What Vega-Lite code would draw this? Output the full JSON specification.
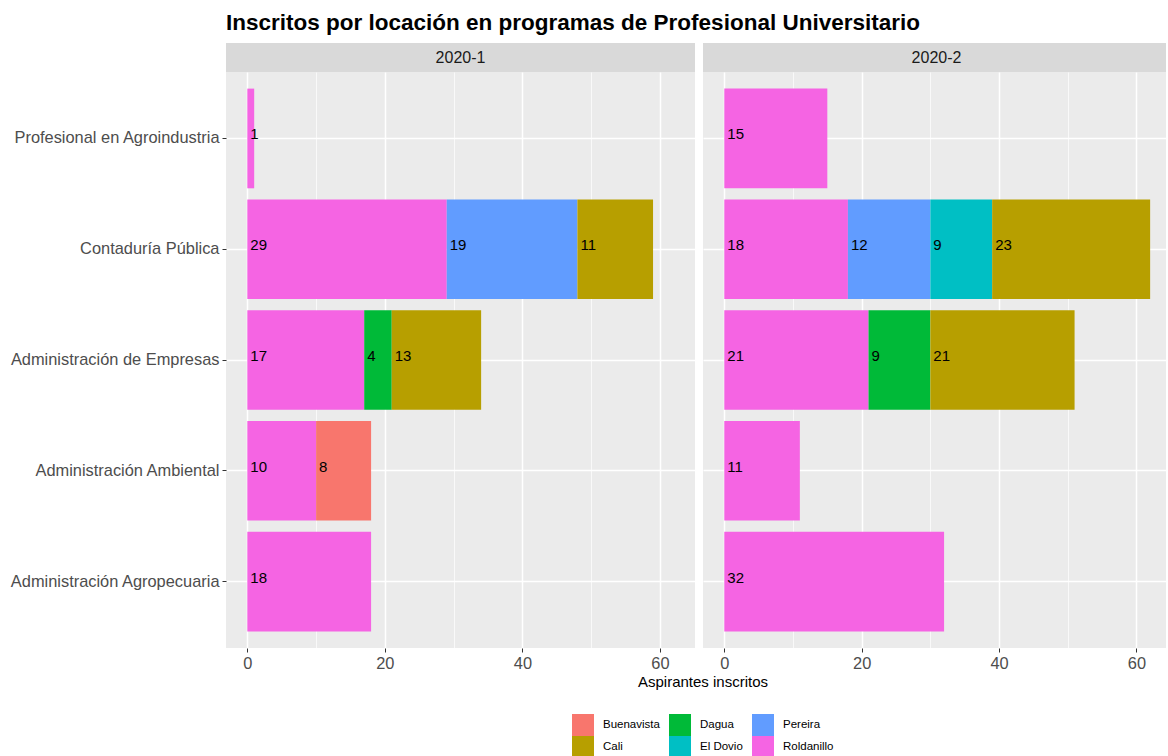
{
  "$schema": "https://vega.github.io/schema/vega-lite/v6.json",
  "padding": {"left": 9, "top": 11, "right": 0, "bottom": 0},
  "background": "white",
  "title": {
    "text": "Inscritos por locación en programas de Profesional Universitario",
    "anchor": "start",
    "frame": "group",
    "fontSize": 22.5,
    "fontWeight": "bold",
    "font": "Liberation Sans",
    "color": "#000000",
    "offset": 9
  },
  "datasets": {
    "inscritos": [
      {"periodo": "2020-1", "programa": "Profesional en Agroindustria", "ubicacion": "Roldanillo", "inscritos": 1},
      {"periodo": "2020-1", "programa": "Contaduría Pública", "ubicacion": "Roldanillo", "inscritos": 29},
      {"periodo": "2020-1", "programa": "Contaduría Pública", "ubicacion": "Pereira", "inscritos": 19},
      {"periodo": "2020-1", "programa": "Contaduría Pública", "ubicacion": "Cali", "inscritos": 11},
      {"periodo": "2020-1", "programa": "Administración de Empresas", "ubicacion": "Roldanillo", "inscritos": 17},
      {"periodo": "2020-1", "programa": "Administración de Empresas", "ubicacion": "Dagua", "inscritos": 4},
      {"periodo": "2020-1", "programa": "Administración de Empresas", "ubicacion": "Cali", "inscritos": 13},
      {"periodo": "2020-1", "programa": "Administración Ambiental", "ubicacion": "Roldanillo", "inscritos": 10},
      {"periodo": "2020-1", "programa": "Administración Ambiental", "ubicacion": "Buenavista", "inscritos": 8},
      {"periodo": "2020-1", "programa": "Administración Agropecuaria", "ubicacion": "Roldanillo", "inscritos": 18},
      {"periodo": "2020-2", "programa": "Profesional en Agroindustria", "ubicacion": "Roldanillo", "inscritos": 15},
      {"periodo": "2020-2", "programa": "Contaduría Pública", "ubicacion": "Roldanillo", "inscritos": 18},
      {"periodo": "2020-2", "programa": "Contaduría Pública", "ubicacion": "Pereira", "inscritos": 12},
      {"periodo": "2020-2", "programa": "Contaduría Pública", "ubicacion": "El Dovio", "inscritos": 9},
      {"periodo": "2020-2", "programa": "Contaduría Pública", "ubicacion": "Cali", "inscritos": 23},
      {"periodo": "2020-2", "programa": "Administración de Empresas", "ubicacion": "Roldanillo", "inscritos": 21},
      {"periodo": "2020-2", "programa": "Administración de Empresas", "ubicacion": "Dagua", "inscritos": 9},
      {"periodo": "2020-2", "programa": "Administración de Empresas", "ubicacion": "Cali", "inscritos": 21},
      {"periodo": "2020-2", "programa": "Administración Ambiental", "ubicacion": "Roldanillo", "inscritos": 11},
      {"periodo": "2020-2", "programa": "Administración Agropecuaria", "ubicacion": "Roldanillo", "inscritos": 32}
    ]
  },
  "spacing": 8,
  "hconcat": [
    {
      "bounds": "flush",
      "spacing": 0,
      "vconcat": [
        {
          "width": 469,
          "height": 29,
          "view": {"fill": "#D9D9D9", "stroke": null},
          "data": {"values": [{"periodo": "2020-1"}]},
          "mark": {"type": "text", "fontSize": 16, "color": "#1A1A1A", "font": "Liberation Sans", "baseline": "middle", "align": "center"},
          "encoding": {"text": {"field": "periodo"}}
        },
        {
          "width": 469,
          "height": 576,
          "view": {"fill": "#EBEBEB", "stroke": null},
          "data": {"name": "inscritos"},
          "transform": [
            {"filter": "datum.periodo === '2020-1'"},
            {"stack": "inscritos", "groupby": ["programa"], "sort": [{"field": "ubicacion", "order": "descending"}], "as": ["inicio", "fin"]}
          ],
          "encoding": {
            "y": {
              "field": "programa",
              "type": "nominal",
              "scale": {
                "domain": ["Profesional en Agroindustria", "Contaduría Pública", "Administración de Empresas", "Administración Ambiental", "Administración Agropecuaria"],
                "paddingInner": 0.1,
                "paddingOuter": 0.15
              },
              "axis": {
                "title": null,
                "grid": true,
                "gridColor": "#FFFFFF",
                "gridWidth": 1.5,
                "bandPosition": 0.5,
                "labelLimit": 400,
                "labelPadding": 3,
                "tickSize": 4,
                "tickColor": "#333333",
                "domain": false
              }
            }
          },
          "layer": [
            {
              "mark": {"type": "bar"},
              "encoding": {
                "x": {
                  "field": "inicio",
                  "type": "quantitative",
                  "scale": {"domain": [-3.1, 65.1], "nice": false, "zero": false},
                  "axis": {
                    "values": [0, 10, 20, 30, 40, 50, 60],
                    "labelExpr": "datum.value % 20 === 0 ? datum.label : ''",
                    "tickOpacity": {"condition": {"test": "datum.value % 20 === 0", "value": 1}, "value": 0},
                    "gridWidth": {"condition": {"test": "datum.value % 20 === 0", "value": 1.5}, "value": 0.7},
                    "gridColor": "#FFFFFF",
                    "grid": true,
                    "domain": false,
                    "labelOverlap": false,
                    "labelFlush": false,
                    "labelPadding": 3,
                    "tickSize": 4,
                    "tickColor": "#333333",
                    "title": null
                  }
                },
                "x2": {"field": "fin"},
                "color": {
                  "field": "ubicacion",
                  "type": "nominal",
                  "scale": {
                    "domain": ["Buenavista", "Cali", "Dagua", "El Dovio", "Pereira", "Roldanillo"],
                    "range": ["#F8766D", "#B79F00", "#00BA38", "#00BFC4", "#619CFF", "#F564E3"]
                  },
                  "legend": {
                    "orient": "none",
                    "legendX": 346,
                    "legendY": 632,
                    "columns": 3,
                    "title": "Aspirantes inscritos",
                    "titleFont": "Liberation Sans",
                    "titleFontSize": 15,
                    "titleFontWeight": "normal",
                    "titleColor": "#000000",
                    "titleAnchor": "middle",
                    "titleOrient": "top",
                    "titlePadding": 24,
                    "titleBaseline": "top",
                    "symbolType": "square",
                    "symbolSize": 484,
                    "symbolStrokeWidth": 0,
                    "symbolOpacity": 1,
                    "labelFontSize": 11.5,
                    "labelFont": "Liberation Sans",
                    "labelColor": "#000000",
                    "labelOffset": 9,
                    "rowPadding": 0,
                    "columnPadding": 9,
                    "padding": 0
                  }
                }
              }
            },
            {
              "mark": {"type": "text", "align": "left", "baseline": "middle", "dx": 3, "dy": -4, "fontSize": 15, "color": "#000000", "font": "Liberation Sans"},
              "encoding": {
                "x": {"field": "inicio", "type": "quantitative"},
                "text": {"field": "inscritos", "type": "quantitative"}
              }
            }
          ]
        }
      ]
    },
    {
      "bounds": "flush",
      "spacing": 0,
      "vconcat": [
        {
          "width": 463,
          "height": 29,
          "view": {"fill": "#D9D9D9", "stroke": null},
          "data": {"values": [{"periodo": "2020-2"}]},
          "mark": {"type": "text", "fontSize": 16, "color": "#1A1A1A", "font": "Liberation Sans", "baseline": "middle", "align": "center", "dx": 2},
          "encoding": {"text": {"field": "periodo"}}
        },
        {
          "width": 463,
          "height": 576,
          "view": {"fill": "#EBEBEB", "stroke": null},
          "data": {"name": "inscritos"},
          "transform": [
            {"filter": "datum.periodo === '2020-2'"},
            {"stack": "inscritos", "groupby": ["programa"], "sort": [{"field": "ubicacion", "order": "descending"}], "as": ["inicio", "fin"]}
          ],
          "encoding": {
            "y": {
              "field": "programa",
              "type": "nominal",
              "scale": {
                "domain": ["Profesional en Agroindustria", "Contaduría Pública", "Administración de Empresas", "Administración Ambiental", "Administración Agropecuaria"],
                "paddingInner": 0.1,
                "paddingOuter": 0.15
              },
              "axis": {
                "title": null,
                "grid": true,
                "gridColor": "#FFFFFF",
                "gridWidth": 1.5,
                "bandPosition": 0.5,
                "labels": false,
                "ticks": false,
                "domain": false
              }
            }
          },
          "layer": [
            {
              "mark": {"type": "bar"},
              "encoding": {
                "x": {
                  "field": "inicio",
                  "type": "quantitative",
                  "scale": {"domain": [-3.1, 64.31], "nice": false, "zero": false},
                  "axis": {
                    "values": [0, 10, 20, 30, 40, 50, 60],
                    "labelExpr": "datum.value % 20 === 0 ? datum.label : ''",
                    "tickOpacity": {"condition": {"test": "datum.value % 20 === 0", "value": 1}, "value": 0},
                    "gridWidth": {"condition": {"test": "datum.value % 20 === 0", "value": 1.5}, "value": 0.7},
                    "gridColor": "#FFFFFF",
                    "grid": true,
                    "domain": false,
                    "labelOverlap": false,
                    "labelFlush": false,
                    "labelPadding": 3,
                    "tickSize": 4,
                    "tickColor": "#333333",
                    "title": null
                  }
                },
                "x2": {"field": "fin"},
                "color": {
                  "field": "ubicacion",
                  "type": "nominal",
                  "scale": {
                    "domain": ["Buenavista", "Cali", "Dagua", "El Dovio", "Pereira", "Roldanillo"],
                    "range": ["#F8766D", "#B79F00", "#00BA38", "#00BFC4", "#619CFF", "#F564E3"]
                  }
                }
              }
            },
            {
              "mark": {"type": "text", "align": "left", "baseline": "middle", "dx": 3, "dy": -4, "fontSize": 15, "color": "#000000", "font": "Liberation Sans"},
              "encoding": {
                "x": {"field": "inicio", "type": "quantitative"},
                "text": {"field": "inscritos", "type": "quantitative"}
              }
            }
          ]
        }
      ]
    }
  ],
  "resolve": {"scale": {"x": "independent", "y": "independent"}},
  "config": {
    "font": "Liberation Sans",
    "view": {"stroke": null},
    "axis": {
      "labelFont": "Liberation Sans",
      "labelFontSize": 16.4,
      "labelColor": "#4D4D4D",
      "titleFont": "Liberation Sans",
      "titleFontSize": 15,
      "titleFontWeight": "normal",
      "titleColor": "#000000"
    }
  }
}
